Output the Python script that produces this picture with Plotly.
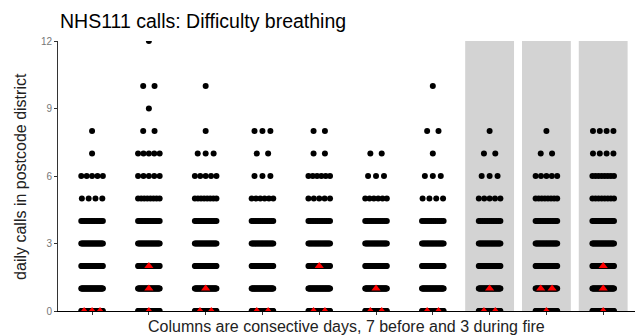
import plotly.graph_objects as go

# Days shown as columns: 7 before the fire, 3 during it
days = [1, 2, 3, 4, 5, 6, 7, 8, 9, 10]
fire_days = [8, 9, 10]

# Number of postcode districts with 0, 1, 2, ... 12 calls on each day
levels = list(range(13))
day1 = [45, 38, 30, 24, 14, 4, 5, 1, 1, 0, 0, 0, 0]
day2 = [42, 36, 30, 22, 15, 8, 5, 5, 2, 1, 2, 0, 1]
day3 = [44, 37, 29, 22, 14, 8, 5, 3, 1, 0, 1, 0, 0]
day4 = [46, 38, 28, 21, 13, 6, 3, 2, 3, 0, 0, 0, 0]
day5 = [45, 37, 29, 20, 13, 5, 6, 2, 2, 0, 0, 0, 0]
day6 = [47, 39, 28, 20, 12, 6, 3, 2, 0, 0, 0, 0, 0]
day7 = [45, 37, 28, 21, 12, 4, 3, 1, 2, 0, 1, 0, 0]
day8 = [43, 37, 29, 22, 13, 5, 3, 2, 1, 0, 0, 0, 0]
day9 = [42, 36, 30, 23, 14, 8, 5, 2, 1, 0, 0, 0, 0]
day10 = [40, 35, 30, 24, 16, 8, 8, 4, 4, 0, 0, 0, 0]
district_counts = [day1, day2, day3, day4, day5, day6, day7, day8, day9, day10]

# Call counts of the highlighted districts (near the fire) on each day
near_day1 = [0, 0, 0]
near_day2 = [0, 1, 2]
near_day3 = [0, 0, 1]
near_day4 = [0, 0]
near_day5 = [0, 0, 2]
near_day6 = [0, 0, 1]
near_day7 = [0, 0]
near_day8 = [0, 0, 1]
near_day9 = [0, 1, 1]
near_day10 = [0, 1, 2]
near_fire = [near_day1, near_day2, near_day3, near_day4, near_day5,
             near_day6, near_day7, near_day8, near_day9, near_day10]

title_text = "NHS111 calls: Difficulty breathing"
x_title = "Columns are consective days, 7 before and 3 during fire"
y_title = "daily calls in postcode district"
y_ticks = [0, 3, 6, 9, 12]

FONT = "Liberation Sans, Arial, sans-serif"


def spread(n, max_half):
    """Evenly spaced horizontal offsets for n points; few points sit closer together."""
    if n <= 1:
        return [0.0] * n
    half = min(max_half, 0.06 + 0.04 * (n - 1))
    return [-half + 2 * half * i / (n - 1) for i in range(n)]


bx, by = [], []
for d, counts in zip(days, district_counts):
    for lvl, n in zip(levels, counts):
        for off in spread(n, 0.19):
            bx.append(d + off)
            by.append(lvl)

rx, ry = [], []
for d, vals in zip(days, near_fire):
    for lvl in sorted(set(vals)):
        n = vals.count(lvl)
        for off in spread(n, 0.16):
            rx.append(d + off)
            ry.append(lvl)

fig = go.Figure()
fig.add_trace(go.Scatter(
    x=bx, y=by, mode="markers",
    marker=dict(symbol="circle", size=6, color="black", line=dict(width=0)),
    cliponaxis=True, hoverinfo="skip", showlegend=False,
))
fig.add_trace(go.Scatter(
    x=rx, y=ry, mode="markers",
    marker=dict(symbol="triangle-up", size=8, color="#ff0000", line=dict(width=0)),
    cliponaxis=True, hoverinfo="skip", showlegend=False,
))

# shaded columns for the days during the fire
for d in fire_days:
    fig.add_shape(type="rect", xref="x", yref="y",
                  x0=d - 0.43, x1=d + 0.43, y0=0, y1=12,
                  fillcolor="#d3d3d3", line=dict(width=0), layer="below")

fig.update_layout(
    width=635, height=336,
    margin=dict(l=58, r=0, t=41, b=25),
    plot_bgcolor="white", paper_bgcolor="white",
    font=dict(family=FONT, color="black"),
    xaxis=dict(range=[0.4, 10.56], tickvals=days, showticklabels=False,
               ticks="outside", ticklen=3, tickcolor="#333",
               showline=True, linecolor="black", linewidth=1,
               showgrid=False, zeroline=False),
    yaxis=dict(range=[0, 12], tickvals=y_ticks,
               ticks="outside", ticklen=3, tickcolor="#333",
               tickfont=dict(size=10, color="#777", family=FONT),
               showline=True, linecolor="#333", linewidth=1,
               showgrid=False, zeroline=False),
    annotations=[
        dict(text=title_text, xref="paper", yref="paper", x=0, y=1.074,
             xanchor="left", yanchor="middle", showarrow=False,
             font=dict(size=19.5, color="black", family=FONT)),
        dict(text=x_title, xref="paper", yref="paper", x=0.5, y=-0.059,
             xanchor="center", yanchor="middle", showarrow=False,
             font=dict(size=16, color="#222", family=FONT)),
        dict(text=y_title, xref="paper", yref="paper", x=-0.066, y=0.5,
             xanchor="center", yanchor="middle", textangle=-90, showarrow=False,
             font=dict(size=16, color="#222", family=FONT)),
    ],
)

fig.write_html("out.html")
